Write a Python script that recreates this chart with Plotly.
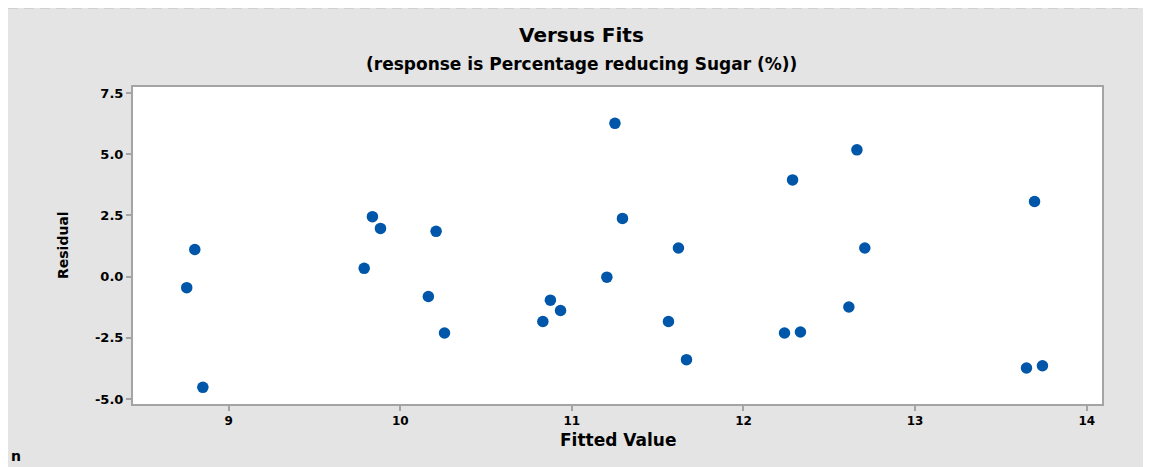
import plotly.graph_objects as go

# Data (fitted value, residual)
fitted = [8.756, 8.803, 8.850, 9.790, 9.838, 9.885, 10.164, 10.209, 10.258,
          10.831, 10.875, 10.934, 11.204, 11.251, 11.295, 11.563, 11.621, 11.668,
          12.239, 12.286, 12.332, 12.614, 12.661, 12.707, 13.649, 13.696, 13.742]
residual = [-0.45, 1.11, -4.52, 0.34, 2.45, 1.97, -0.81, 1.85, -2.30,
            -1.83, -0.96, -1.38, -0.02, 6.26, 2.38, -1.83, 1.17, -3.39,
            -2.30, 3.95, -2.26, -1.24, 5.18, 1.17, -3.73, 3.07, -3.64]

x_ticks = [9, 10, 11, 12, 13, 14]
y_ticks = [-5.0, -2.5, 0.0, 2.5, 5.0, 7.5]
y_tick_text = ["-5.0", "-2.5", "0.0", "2.5", "5.0", "7.5"]

title = "Versus Fits"
subtitle = "(response is Percentage reducing Sugar (%))"
x_label = "Fitted Value"
y_label = "Residual"

OFF = 8  # page body margin
W, H = 1151 - OFF, 467 - OFF
L, T = 133 - OFF, 87 - OFF
R = W - (1102 - OFF)
B = H - (404 - OFF)
PW, PH = W - L - R, H - T - B


def px_x(p):
    # p: screenshot pixel
    return (p - OFF - L) / PW


def px_y(p):
    return (H - B - (p - OFF)) / PH


FONT = "DejaVu Sans"
AXIS_GREY = "#a4a4a4"

fig = go.Figure()
fig.add_trace(go.Scatter(
    x=fitted, y=residual, mode="markers",
    marker=dict(symbol="circle", size=11.5, color="#0056a8",
                line=dict(width=0)),
    showlegend=False, hoverinfo="x+y",
))

fig.add_hline(y=0, line=dict(color="#a8a8a8", width=1.6, dash="10px,6px"))

shapes = [
    dict(type="line", xref="paper", yref="paper", x0=px_x(8), x1=px_x(1151),
         y0=px_y(8.5), y1=px_y(8.5), line=dict(color="#d0d0d0", width=1)),
]

annotations = [
    dict(text="<b>" + title + "</b>", xref="paper", yref="paper",
         x=px_x(581), y=px_y(49), xanchor="center", yanchor="bottom",
         showarrow=False, font=dict(family=FONT, size=20, color="black")),
    dict(text="<b>" + subtitle + "</b>", xref="paper", yref="paper",
         x=px_x(581), y=px_y(76), xanchor="center", yanchor="bottom",
         showarrow=False, font=dict(family=FONT, size=17, color="black")),
    dict(text="<b>" + x_label + "</b>", xref="paper", yref="paper",
         x=px_x(618), y=px_y(440), xanchor="center", yanchor="middle",
         showarrow=False, font=dict(family=FONT, size=17, color="black")),
    dict(text="<b>" + y_label + "</b>", xref="paper", yref="paper",
         x=px_x(63), y=px_y(245), xanchor="center", yanchor="middle",
         textangle=-90, showarrow=False,
         font=dict(family=FONT, size=14, color="black")),
    dict(text="<b>n</b>", xref="paper", yref="paper",
         x=px_x(9), y=px_y(466), xanchor="left", yanchor="bottom",
         showarrow=False, font=dict(family=FONT, size=14, color="black")),
]

fig.update_layout(
    width=W, height=H,
    margin=dict(l=L, r=R, t=T, b=B, pad=0),
    paper_bgcolor="#e4e4e4", plot_bgcolor="white",
    shapes=shapes, annotations=annotations,
    showlegend=False,
    xaxis=dict(range=[8.443, 14.089], tickvals=x_ticks,
               ticktext=["<b>%d</b>" % v for v in x_ticks],
               showgrid=False, zeroline=False,
               showline=True, linecolor=AXIS_GREY, linewidth=2, mirror=True,
               ticks="outside", ticklen=5, tickwidth=1.5, tickcolor=AXIS_GREY,
               tickfont=dict(family=FONT, size=12, color="black")),
    yaxis=dict(range=[-5.2, 7.745], tickvals=y_ticks,
               ticktext=["<b>%s</b>" % t for t in y_tick_text],
               showgrid=False, zeroline=False,
               showline=True, linecolor=AXIS_GREY, linewidth=2, mirror=True,
               ticks="outside", ticklen=5, tickwidth=1.5, tickcolor=AXIS_GREY,
               tickfont=dict(family=FONT, size=13, color="black")),
)

fig.write_html("out.html")
